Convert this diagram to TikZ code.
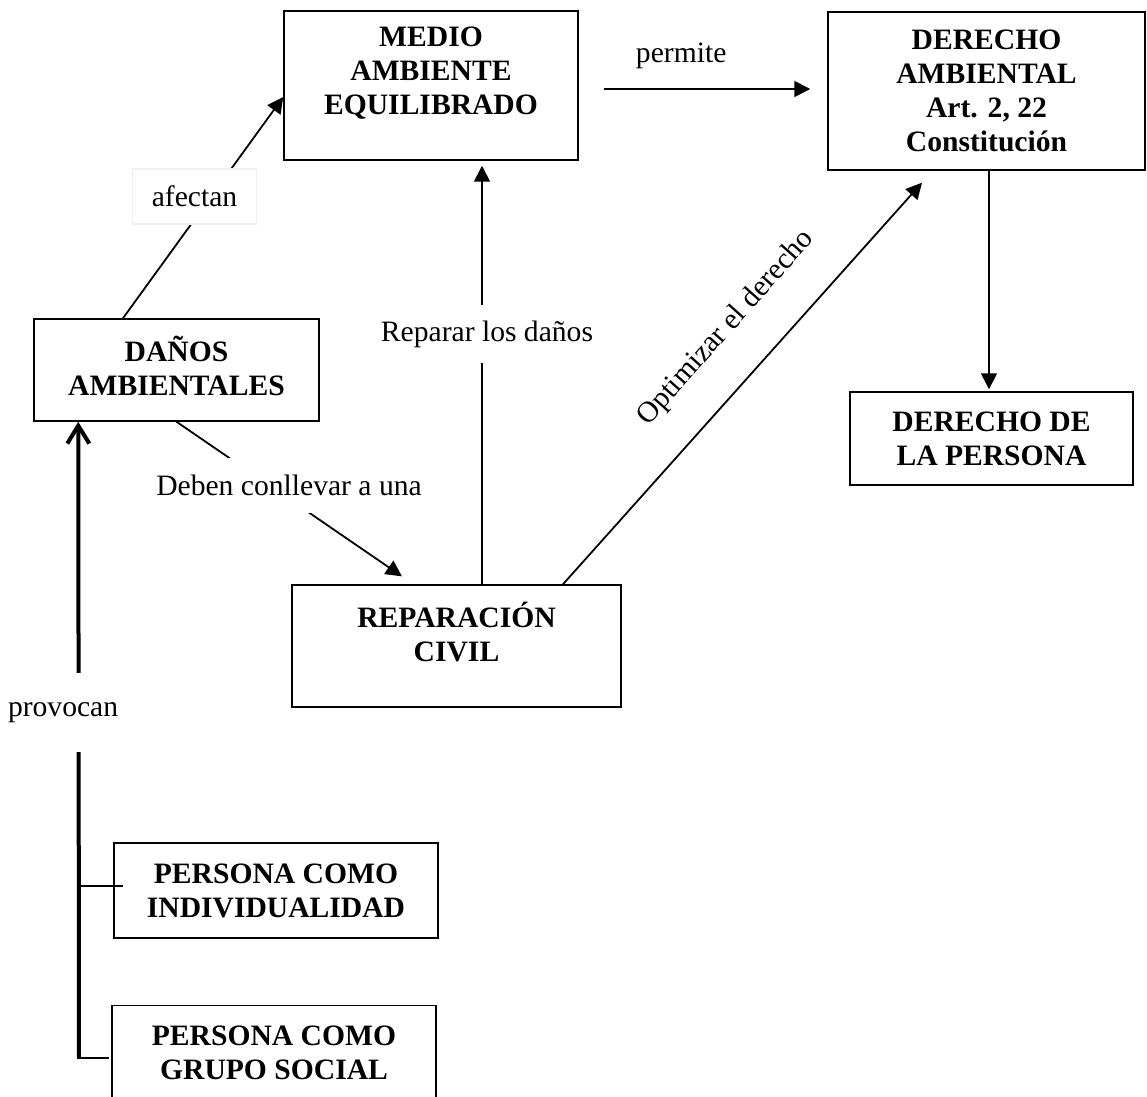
\documentclass[tikz,border=0pt]{standalone}
\usepackage{fontspec}
\setmainfont{Liberation Serif}
\usetikzlibrary{arrows.meta}

\begin{document}
\begin{tikzpicture}[x=0.5pt, y=-0.5pt,
		box/.style={draw, line width=0.75pt, inner sep=0pt},
		boxtext/.style={font=\fontsize{14.8}{17}\selectfont\bfseries, align=center},
		lbl/.style={font=\fontsize{14.8}{17}\selectfont, fill=white, inner sep=2pt},
		arr/.style={line width=0.9pt, -{Triangle[length=8pt, width=8pt]}}]
		\clip (0,0) rectangle (1147,1097);
		% cajas
		\node[box, minimum width=147pt, minimum height=74.5pt, label={[boxtext, yshift=6pt]center:{MEDIO\\AMBIENTE\\EQUILIBRADO}}] (medio) at (431,85.5) {};
		\node[box, minimum width=158.5pt, minimum height=79pt, label={[boxtext]center:{DERECHO\\AMBIENTAL\\Art. 2, 22\\Constitución}}] (derecho) at (986.5,91) {};
		\node[box, minimum width=141.5pt, minimum height=46.5pt, label={[boxtext]center:{DERECHO DE\\LA PERSONA}}] (persona) at (991.5,438.5) {};
		\node[box, minimum width=142.5pt, minimum height=51pt, label={[boxtext, yshift=2pt]center:{DAÑOS\\AMBIENTALES}}] (danos) at (176.5,370) {};
		\node[box, minimum width=164.5pt, minimum height=61pt, label={[boxtext, yshift=7pt]center:{REPARACIÓN\\CIVIL}}] (reparacion) at (456.5,646) {};
		\node[box, minimum width=162pt, minimum height=47.5pt, label={[boxtext]center:{PERSONA COMO\\INDIVIDUALIDAD}}] (indiv) at (276,890.5) {};
		\node[box, minimum width=162pt, minimum height=47.5pt, label={[boxtext]center:{PERSONA COMO\\GRUPO SOCIAL}}] (grupo) at (274,1053) {};
		% conectores
		\draw[arr] ([xshift=-26.75pt]danos.north) -- ([yshift=-5.75pt]medio.west) node[lbl, draw=black!6, pos=0.55, xshift=-8.3pt, minimum width=62pt, minimum height=27.5pt]{afectan};
		\draw[arr] ([xshift=12.5pt, yshift=-1.75pt]medio.east) -- ([xshift=-8.5pt, yshift=1pt]derecho.west) node[lbl, pos=0.375, above=7.5pt]{permite};
		\draw[arr, shorten >=2.5pt] ([xshift=12.75pt]reparacion.north) -- ([xshift=12.75pt]reparacion.north |- medio.south) node[lbl, pos=0.59, xshift=2.5pt, minimum height=29pt]{Reparar los daños};
		\draw[arr, shorten >=8pt] ([xshift=53.25pt]reparacion.north) -- ([xshift=-26.9pt]derecho.south) node[pos=0.54, sloped, above=14pt, font=\fontsize{14.8}{17}\selectfont]{Optimizar el derecho};
		\draw[arr, shorten >=7pt] (danos.south) -- ([xshift=-21.5pt]reparacion.north) node[lbl, pos=0.5, xshift=-3pt, yshift=8.75pt, minimum height=27.5pt]{Deben conllevar a una};
		\draw[arr, shorten >=1pt] ([xshift=1.25pt]derecho.south) -- ([xshift=1.25pt]derecho.south |- persona.north);
		% tronco de personas
		\coordinate (base) at (79,1058);
		\draw[line width=2pt, -{Straight Barb[length=9pt, width=11pt]}] (base) -- ([xshift=22.5pt]danos.south west) node[lbl, pos=0.543, xshift=-7.75pt, minimum height=39.5pt]{provocan};
		\draw[line width=1.3pt] ([yshift=2.25pt]indiv.west -| base) -- ([xshift=5pt, yshift=2.25pt]indiv.west);
		\draw[line width=1.1pt] ([xshift=-1pt]base) -- ([xshift=-1pt]grupo.west |- base);
	\end{tikzpicture}
\end{document}
